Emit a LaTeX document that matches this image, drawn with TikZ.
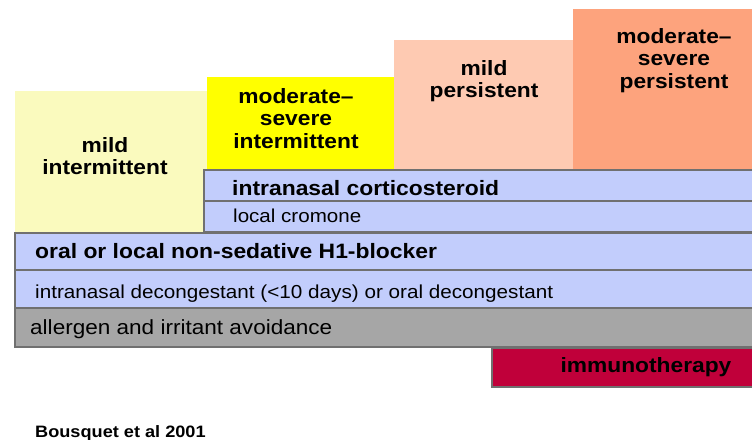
\documentclass[tikz,border=0pt]{standalone}
\usepackage{fontspec}
\setmainfont[FakeStretch=1.1]{Liberation Sans}
\usetikzlibrary{positioning}
\definecolor{mildint}{RGB}{250,250,190}
\definecolor{modint}{RGB}{255,255,0}
\definecolor{mildper}{RGB}{254,202,178}
\definecolor{modper}{RGB}{253,163,125}
\definecolor{barblue}{RGB}{194,205,252}
\definecolor{bargrey}{RGB}{166,166,166}
\definecolor{immuno}{RGB}{192,0,58}
\definecolor{barline}{RGB}{112,112,112}
\newcommand{\fs}[1]{\fontsize{#1}{#1}\selectfont}

\begin{document}
\begin{tikzpicture}[x=1pt,y=-1pt,
  blk/.style={rectangle,anchor=north west,inner sep=0pt,outer sep=0pt},
  bar/.style={blk,draw=barline,line width=1.5pt},
  hdr/.style={anchor=north,align=center,inner sep=0pt,font=\fontsize{20.7}{22.5}\selectfont\bfseries},
  bartxt/.style={anchor=base west,inner sep=0pt}]
  \useasboundingbox (0,0) rectangle (752,439);
  % severity blocks
  \node[blk,fill=mildint,minimum width=192pt,minimum height=143pt] (mi) at (15,91) {};
  \node[blk,fill=modint,minimum width=187pt,minimum height=94pt] (msi) at (207,77) {};
  \node[blk,fill=mildper,minimum width=179pt,minimum height=131pt] (mp) at (394,40) {};
  \node[blk,fill=modper,minimum width=185pt,minimum height=162pt] (msp) at (573,9) {};
  \node[hdr] (mitxt) at (105,137) {mild\\intermittent};
  \node[hdr] (msitxt) at (296,88) {moderate–\\severe\\intermittent};
  \node[hdr] (mptxt) at (484,60) {mild\\persistent};
  \node[hdr] (msptxt) at (674,28) {moderate–\\severe\\persistent};
  % treatment bars
  \node[bar,fill=barblue,minimum width=560pt,minimum height=31pt] (ics) at (204,170) {};
  \node[bar,fill=barblue,minimum width=560pt,minimum height=31pt] (crom) at (204,201) {};
  \node[bar,fill=barblue,minimum width=750pt,minimum height=37pt] (hone) at (15,233) {};
  \node[bar,fill=barblue,minimum width=750pt,minimum height=38pt] (dec) at (15,270) {};
  \node[bar,fill=bargrey,minimum width=750pt,minimum height=39pt] (avoid) at (15,308) {};
  \node[bar,fill=immuno,minimum width=270pt,minimum height=39pt] (immu) at (492,348) {};
  \node[bartxt,font=\fs{20.8}\bfseries] (icstxt) at (232,195) {intranasal corticosteroid};
  \node[bartxt,font=\fs{18.7}] (cromtxt) at (233,222) {local cromone};
  \node[bartxt,font=\fs{20.8}\bfseries] (honetxt) at (35,258) {oral or local non-sedative H1-blocker};
  \node[bartxt,font=\fs{18.8}] (dectxt) at (35,298) {intranasal decongestant (<10 days) or oral decongestant};
  \node[bartxt,font=\fs{20.5}] (avoidtxt) at (30,334) {allergen and irritant avoidance};
  \node[anchor=base,inner sep=0pt,font=\fs{20.7}\bfseries] (immutxt) at (646,372) {immunotherapy};
  % source
  \node[bartxt,font=\fs{16.5}\bfseries] (src) at (35,437) {Bousquet et al 2001};
\end{tikzpicture}
\end{document}
